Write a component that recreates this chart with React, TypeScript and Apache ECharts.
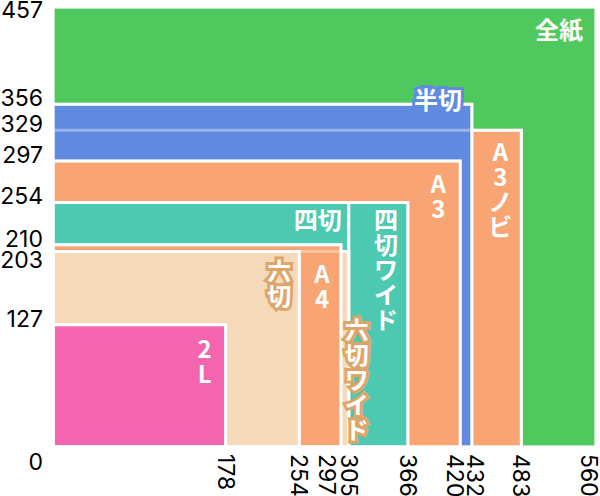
import React, { useEffect, useRef } from 'react';
import * as echarts from 'echarts';

// Paper sizes (mm): drawn width x drawn height, back to front
const sizeNames = ['全紙', 'A3ノビ', '半切', 'A3', '四切ワイド', '四切', '六切ワイド', 'A4', '六切', '2L'];
const sizeWidths = [560, 483, 432, 420, 366, 305, 305, 297, 254, 178];
const sizeHeights = [457, 329, 356, 297, 254, 254, 203, 210, 203, 127];

const xTickValues = [178, 254, 297, 305, 366, 420, 432, 483, 560];
const yTickValues = [0, 127, 203, 210, 254, 297, 329, 356, 457];

const X_MAX = 560;
const Y_MAX = 457;

// styles
const GREEN = '#4fc95e';
const BLUE = '#5f8ae0';
const ORANGE = '#f8a473';
const TEAL = '#4cc9b0';
const BEIGE = '#f5d9b8';
const PINK = '#f465b0';
const TAN = '#dea56b';

const fillColors: Record<string, string> = {
  '全紙': GREEN,
  'A3ノビ': ORANGE,
  '半切': BLUE,
  'A3': ORANGE,
  '四切ワイド': TEAL,
  '四切': TEAL,
  '六切ワイド': BEIGE,
  'A4': ORANGE,
  '六切': BEIGE,
  '2L': PINK,
};

// label placement relative to the rect's top-right corner (pixels)
const labelLayout: Record<string, { vertical: boolean; dx: number; dy: number; stroke: string }> = {
  '全紙': { vertical: false, dx: -13, dy: 9, stroke: GREEN },
  '半切': { vertical: false, dx: -10, dy: -18, stroke: BLUE },
  'A3ノビ': { vertical: true, dx: -21, dy: 8, stroke: ORANGE },
  'A3': { vertical: true, dx: -22, dy: 9, stroke: ORANGE },
  '四切ワイド': { vertical: true, dx: -22, dy: 4, stroke: TEAL },
  '四切': { vertical: false, dx: -7, dy: 4, stroke: TEAL },
  '六切ワイド': { vertical: true, dx: 8, dy: 64, stroke: TAN },
  'A4': { vertical: true, dx: -19, dy: 15, stroke: ORANGE },
  '六切': { vertical: true, dx: -20, dy: 5, stroke: TAN },
  '2L': { vertical: true, dx: -21, dy: 10, stroke: PINK },
};

const NUM_FONT = 'Inter, "Noto Sans", sans-serif';
const JP_FONT = '"Noto Sans CJK JP", "Noto Sans", sans-serif';

export default function App() {
  const ref = useRef<HTMLDivElement>(null);

  useEffect(() => {
    if (!ref.current) return;
    const chart = echarts.init(ref.current, undefined, { renderer: 'svg' });

    const data = sizeNames.map((n, i) => [i, sizeWidths[i], sizeHeights[i]]);

    const rectShape = (api: any) => {
      const w = api.value(1) as number;
      const h = api.value(2) as number;
      const p0 = api.coord([0, 0]);
      const p1 = api.coord([w, h]);
      return { x: p0[0], y: p1[1], width: p1[0] - p0[0], height: p0[1] - p1[1] };
    };

    const numRich = (extra: any) => ({
      fontSize: 23,
      fontFamily: NUM_FONT,
      color: '#000',
      ...extra,
    });

    chart.setOption({
      animation: false,
      grid: { left: 53, right: 4, top: 7, bottom: 49, outerBoundsMode: 'none' },
      xAxis: {
        type: 'value',
        min: 0,
        max: X_MAX,
        axisLine: { show: false },
        axisTick: { show: false },
        splitLine: { show: false },
        axisLabel: {
          customValues: xTickValues,
          rotate: -90,
          margin: 7,
          fontSize: 23,
          fontFamily: NUM_FONT,
          color: '#000',
          formatter: (v: number) => {
            const s = String(v);
            if (v === 297) return `{a|${s}}`;
            if (v === 420) return `{b|${s}}`;
            if (v === 560) return `{d|${s}}`;
            if (v === 432) return `{c|${s}}`;
            return `{n|${s}}`;
          },
          rich: {
            n: numRich({}),
            a: numRich({ padding: [27, 0, 0, 0] }),
            b: numRich({ padding: [10, 0, 0, 0] }),
            c: numRich({ padding: [0, 0, 6, 0] }),
            d: numRich({ padding: [14, 0, 0, 0] }),
          },
        },
      },
      yAxis: {
        type: 'value',
        min: 0,
        max: Y_MAX,
        axisLine: { show: false },
        axisTick: { show: false },
        splitLine: { show: false },
        axisLabel: {
          customValues: yTickValues,
          showMinLabel: true,
          showMaxLabel: true,
          margin: 10,
          verticalAlign: 'middle',
          fontSize: 23,
          fontFamily: NUM_FONT,
          color: '#000',
          formatter: (v: number) => {
            const s = String(v);
            if (v === Y_MAX) return `{top|${s}}`;
            if (v === 0) return `{zero|${s}}`;
            if (v === 203) return `{low|${s}}`;
            return `{n|${s}}`;
          },
          rich: {
            n: numRich({ padding: [0, 0, 12, 0] }),
            top: numRich({ padding: [6, 0, 0, 0] }),
            low: numRich({ padding: [17, 0, 0, 0] }),
            zero: numRich({ padding: [29, 0, 0, 0] }),
          },
        },
      },
      series: [
        {
          type: 'custom',
          name: 'fill',
          data,
          encode: { x: 1, y: 2 },
          renderItem: (params: any, api: any) => {
            const name = sizeNames[api.value(0) as number];
            return {
              type: 'rect',
              shape: rectShape(api),
              style: { fill: fillColors[name], stroke: '#ffffff', lineWidth: 3 },
            };
          },
        },
        {
          type: 'custom',
          name: 'outline',
          data,
          encode: { x: 1, y: 2 },
          silent: true,
          renderItem: (params: any, api: any) => ({
            type: 'rect',
            shape: rectShape(api),
            style: { fill: 'none', stroke: 'rgba(255,255,255,0.35)', lineWidth: 3 },
          }),
        },
        {
          type: 'custom',
          name: 'labels',
          data,
          encode: { x: 1, y: 2 },
          renderItem: (params: any, api: any) => {
            const name = sizeNames[api.value(0) as number];
            const lay = labelLayout[name];
            const s = rectShape(api);
            const right = s.x + s.width;
            const top = s.y;
            const text = lay.vertical ? Array.from(name).join('\n') : name;
            return {
              type: 'text',
              x: right + lay.dx,
              y: top + lay.dy,
              style: {
                text,
                fill: '#ffffff',
                stroke: lay.stroke,
                lineWidth: 6,
                fontSize: 24,
                fontWeight: 'bold',
                fontFamily: JP_FONT,
                align: lay.vertical ? 'center' : 'right',
                verticalAlign: 'top',
                lineHeight: 25,
              },
            };
          },
        },
      ],
    });

    return () => chart.dispose();
  }, []);

  return (
    <div
      ref={ref}
      style={{ position: 'fixed', left: 0, top: 0, width: 600, height: 496, background: '#fff' }}
    />
  );
}
